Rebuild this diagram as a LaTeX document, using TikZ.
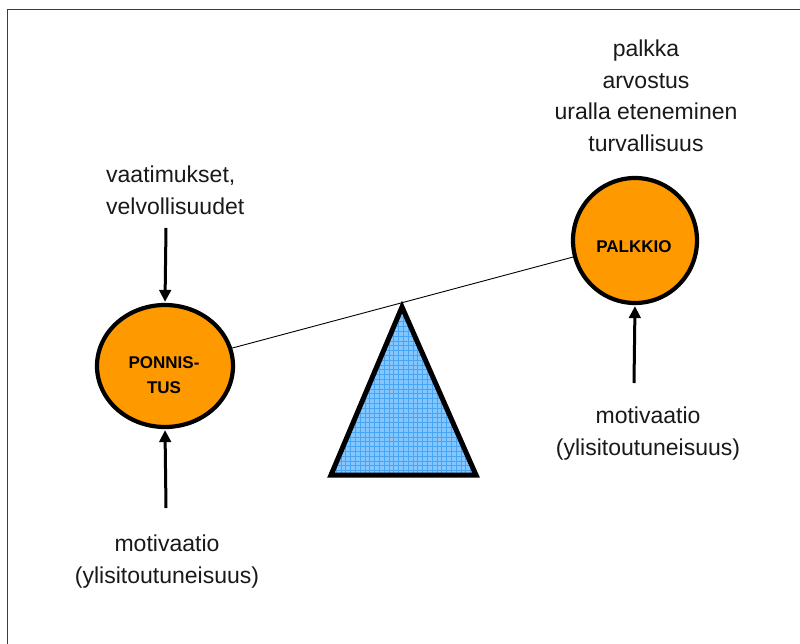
\documentclass[tikz,border=0pt]{standalone}
\usepackage{fontspec}
\setmainfont{Liberation Sans}
\usetikzlibrary{arrows.meta,shapes.geometric}

\definecolor{ballorange}{RGB}{255,153,0}
\definecolor{wedgeblue}{RGB}{132,198,255}
\definecolor{wedgegrid}{RGB}{70,165,245}
\definecolor{framegray}{RGB}{60,60,60}

\tikzset{
  ball/.style={ellipse, draw=black, fill=ballorange, line width=4.2pt, inner sep=0pt},
  balltext/.style={font=\fontsize{17}{25}\selectfont\bfseries, align=center, inner sep=0pt},
  caption/.style={font=\fontsize{23}{31.5}\selectfont, inner sep=0pt, text=black!90},
  push/.style={line width=3pt, -{Triangle[length=12pt,width=11.5pt]}, shorten >=1pt},
  beam/.style={line width=0.9pt},
}

\begin{document}
\begin{tikzpicture}[x=1pt,y=-1pt]
  \useasboundingbox (0,0) rectangle (800,644);

  % frame lines along the top and left edge
  \draw[framegray, line width=1.6pt] (7.5,644) -- (7.5,9.5) -- (800,9.5);

  % the two weights of the balance
  \node[ball, minimum width=136pt, minimum height=122pt] (ponnistus) at (165,366) {};
  \node[balltext] (ponnistustext) at (164,375) {PONNIS-\\TUS};
  \node[ball, minimum width=124pt, minimum height=125pt] (palkkio) at (635,240.5) {};
  \node[balltext] (palkkiotext) at (634,247) {PALKKIO};

  % fulcrum: gridded blue triangle
  \coordinate (apex) at (402,307);
  \coordinate (baseL) at (331,475);
  \coordinate (baseR) at (476,475);
  \begin{scope}
    \clip (apex) -- (baseL) -- (baseR) -- cycle;
    \fill[wedgeblue] (320,300) rectangle (490,480);
    \draw[wedgegrid, line width=0.5pt, step=4.8pt] (320,300) grid (490,480);
  \end{scope}
  \draw[line width=5pt, line join=miter] (apex) -- (baseL) -- (baseR) -- cycle;

  % the beam resting on the fulcrum
  \draw[beam] (ponnistus) -- (palkkio);

  % forces acting on the weights
  \coordinate (demandsfoot) at (166,228);
  \coordinate (motivLfoot) at (166,508);
  \coordinate (motivRfoot) at (634,383);
  \draw[push] (demandsfoot) -- (ponnistus.north);
  \draw[push] (motivLfoot) -- (ponnistus.south);
  \draw[push] (motivRfoot) -- (palkkio.south);

  % captions
  \node[caption, anchor=north, align=center] (rewards) at (646,40)
    {palkka\\arvostus\\uralla eteneminen\\turvallisuus};
  \node[caption, anchor=north west, align=left] (demands) at (106,166)
    {vaatimukset,\\velvollisuudet};
  \node[caption, anchor=north, align=center] (motivL) at (167,535)
    {motivaatio\\(ylisitoutuneisuus)};
  \node[caption, anchor=north, align=center] (motivR) at (648,407)
    {motivaatio\\(ylisitoutuneisuus)};
\end{tikzpicture}
\end{document}
